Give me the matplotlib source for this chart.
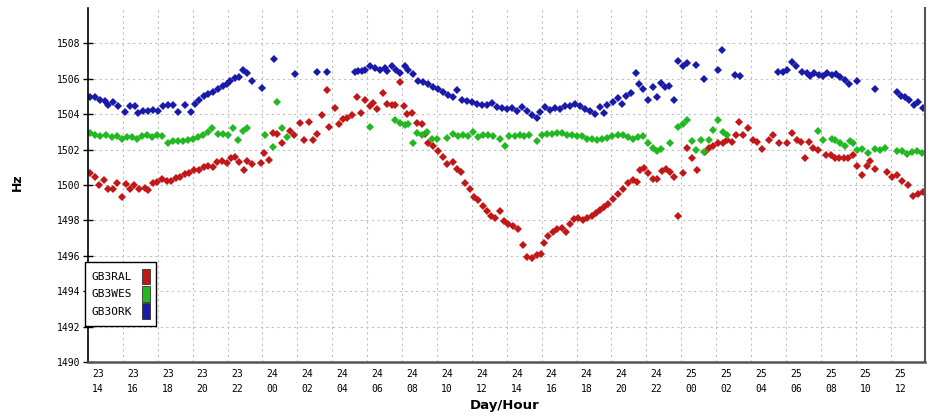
import matplotlib
matplotlib.use("Agg")
import matplotlib.pyplot as plt
from matplotlib.patches import Patch

# beacon names and colours
names = ["GB3RAL", "GB3WES", "GB3ORK"]
colors = ["#c01818", "#22b822", "#1a1aa8"]

# x axis: hours from the left edge of the plot window (23 ~13:25)
day_labels = ["23"] * 5 + ["24"] * 12 + ["25"] * 7
hour_labels = ["14", "16", "18", "20", "22",
               "00", "02", "04", "06", "08", "10", "12", "14", "16", "18", "20", "22",
               "00", "02", "04", "06", "08", "10", "12"]

# GB3RAL
ral_h = [0.11, 0.40, 0.63, 0.92, 1.15, 1.43, 1.66, 1.95, 2.18, 2.41,
         2.64, 2.92, 3.27, 3.44, 3.72, 3.95, 4.24, 4.53, 4.76, 5.04,
         5.27, 5.56, 5.79, 6.07, 6.36, 6.65, 6.88, 7.16, 7.39, 7.68,
         7.97, 8.20, 8.42, 8.65, 8.94, 9.11, 9.40, 9.91, 10.09, 10.37,
         10.60, 10.83, 11.12, 11.58, 11.81, 12.15, 12.38, 12.66, 12.89, 13.12,
         13.41, 13.70, 13.81, 14.15, 14.38, 14.61, 14.84, 15.13, 15.42, 15.64,
         15.87, 16.16, 16.33, 16.56, 16.91, 17.13, 17.42, 17.59, 17.88, 18.11,
         18.28, 18.57, 18.85, 19.14, 19.31, 19.48, 19.77, 20.06, 20.34, 20.57,
         20.92, 21.15, 21.38, 21.60, 21.89, 22.12, 22.35, 22.64, 22.87, 23.09,
         23.32, 23.61, 23.84, 24.07, 24.36, 24.64, 24.93, 25.16, 25.44, 25.73,
         25.96, 26.13, 26.36, 26.65, 26.88, 27.16, 27.39, 27.62, 27.85, 28.08,
         28.37, 28.60, 28.88, 29.11, 29.34, 29.57, 29.80, 30.09, 30.37, 30.66,
         30.95, 31.23, 31.46, 31.63, 31.86, 32.09, 32.38, 32.61, 32.89, 33.12,
         33.35, 33.58, 33.81, 34.10, 34.33, 34.61, 34.90, 35.36, 35.59, 35.82,
         36.10, 36.39, 36.62, 36.91, 37.14, 37.31, 37.54, 37.82, 38.11, 38.34,
         38.62, 39.03, 39.26, 39.60, 40.06, 40.34, 40.63, 40.86, 41.09, 41.32,
         41.55, 41.83, 42.29, 42.58, 42.81, 43.04, 43.32, 43.55, 43.84, 44.07,
         44.36, 44.64, 44.81, 45.10, 45.79, 46.07, 46.36, 46.65, 47.00, 47.28,
         47.56, 47.85]
ral_hz = [1500.65, 1500.45, 1500.0, 1500.3, 1499.75, 1499.8, 1500.1, 1499.3, 1500.05, 1499.8,
          1500.0, 1499.75, 1499.85, 1499.7, 1500.1, 1500.15, 1500.35, 1500.25, 1500.25, 1500.4,
          1500.45, 1500.6, 1500.7, 1500.85, 1500.85, 1501.0, 1501.1, 1501.0, 1501.3, 1501.35,
          1501.25, 1501.55, 1501.6, 1501.3, 1500.85, 1501.35, 1501.2, 1501.25, 1501.8, 1501.4,
          1502.95, 1502.9, 1502.35, 1503.05, 1502.85, 1503.5, 1502.55, 1503.55, 1502.55, 1502.9,
          1503.95, 1505.35, 1503.25, 1504.35, 1503.45, 1503.75, 1503.8, 1503.95, 1504.95, 1504.05,
          1504.8, 1504.45, 1504.65, 1504.3, 1505.2, 1504.6, 1504.5, 1504.5, 1505.8, 1504.45,
          1504.0, 1504.05, 1503.5, 1503.45, 1502.9, 1502.35, 1502.2, 1501.9, 1501.6, 1501.2,
          1501.3, 1500.9, 1500.75, 1500.1, 1499.75, 1499.3, 1499.15, 1498.8, 1498.55, 1498.25,
          1498.15, 1498.55, 1497.95, 1497.8, 1497.7, 1497.5, 1496.6, 1495.95, 1495.85, 1496.05,
          1496.1, 1496.7, 1497.1, 1497.35, 1497.5, 1497.55, 1497.35, 1497.8, 1498.1, 1498.15,
          1498.05, 1498.15, 1498.25, 1498.4, 1498.6, 1498.75, 1498.9, 1499.2, 1499.5, 1499.8,
          1500.1, 1500.3, 1500.15, 1500.85, 1500.95, 1500.65, 1500.35, 1500.35, 1500.8, 1500.9,
          1500.75, 1500.45, 1498.25, 1500.65, 1502.1, 1501.55, 1500.85, 1501.85, 1502.1, 1502.2,
          1502.35, 1502.35, 1502.55, 1502.45, 1502.8, 1503.55, 1502.85, 1503.2, 1502.55, 1502.45,
          1502.05, 1502.55, 1502.85, 1502.4, 1502.35, 1502.95, 1502.55, 1502.45, 1501.55, 1502.45,
          1502.1, 1501.95, 1501.7, 1501.7, 1501.55, 1501.5, 1501.5, 1501.55, 1501.7, 1501.1,
          1500.55, 1501.1, 1501.35, 1500.9, 1500.75, 1500.45, 1500.55, 1500.25, 1500.0, 1499.4,
          1499.5, 1499.6]

# GB3WES
wes_h = [0.11, 0.40, 0.69, 1.03, 1.38, 1.66, 1.95, 2.24, 2.52, 2.81,
         3.09, 3.38, 3.67, 3.95, 4.24, 4.58, 4.87, 5.16, 5.44, 5.73,
         6.02, 6.30, 6.59, 6.88, 7.11, 7.45, 7.74, 8.02, 8.31, 8.60,
         8.88, 9.11, 10.14, 10.60, 10.83, 11.12, 11.40, 16.16, 17.59, 17.88,
         18.17, 18.34, 18.62, 18.85, 19.14, 19.43, 19.71, 20.00, 20.57, 20.92,
         21.20, 21.49, 21.78, 22.06, 22.35, 22.64, 22.92, 23.21, 23.61, 23.90,
         24.13, 24.47, 24.76, 24.99, 25.27, 25.73, 26.02, 26.30, 26.59, 26.88,
         27.16, 27.45, 27.74, 28.02, 28.31, 28.60, 28.88, 29.17, 29.46, 29.74,
         30.03, 30.37, 30.66, 30.95, 31.23, 31.52, 31.81, 32.09, 32.38, 32.61,
         32.84, 33.35, 33.81, 34.10, 34.33, 34.61, 34.84, 35.13, 35.30, 35.59,
         35.82, 36.10, 36.39, 36.62, 41.83, 42.12, 42.64, 42.81, 43.09, 43.38,
         43.67, 43.84, 44.07, 44.36, 44.70, 45.10, 45.39, 45.67, 46.36, 46.65,
         46.94, 47.22, 47.51, 47.79]
wes_hz = [1502.95, 1502.85, 1502.75, 1502.8, 1502.7, 1502.75, 1502.6, 1502.7, 1502.7, 1502.6,
          1502.75, 1502.8, 1502.7, 1502.85, 1502.75, 1502.35, 1502.5, 1502.5, 1502.5, 1502.55,
          1502.6, 1502.7, 1502.85, 1503.0, 1503.2, 1502.9, 1502.9, 1502.8, 1503.2, 1502.55,
          1503.05, 1503.2, 1502.8, 1502.15, 1504.7, 1503.2, 1502.7, 1503.3, 1503.7, 1503.5,
          1503.4, 1503.45, 1502.4, 1502.95, 1502.8, 1503.0, 1502.6, 1502.6, 1502.65, 1502.9,
          1502.75, 1502.8, 1502.75, 1503.0, 1502.7, 1502.85, 1502.8, 1502.75, 1502.6, 1502.2,
          1502.75, 1502.75, 1502.85, 1502.75, 1502.85, 1502.5, 1502.85, 1502.9, 1502.9, 1502.95,
          1502.95, 1502.85, 1502.8, 1502.75, 1502.75, 1502.6, 1502.6, 1502.55, 1502.6, 1502.65,
          1502.75, 1502.85, 1502.8, 1502.7, 1502.6, 1502.7, 1502.75, 1502.35, 1502.1, 1501.9,
          1502.05, 1502.35, 1503.3, 1503.45, 1503.7, 1502.5, 1502.0, 1502.55, 1501.85, 1502.55,
          1503.1, 1503.65, 1503.0, 1502.85, 1503.05, 1502.55, 1502.6, 1502.55, 1502.35, 1502.2,
          1502.5, 1502.4, 1502.0, 1502.05, 1501.8, 1502.05, 1502.0, 1502.1, 1501.9, 1501.9,
          1501.75, 1501.85, 1501.9, 1501.8]

# GB3ORK
ork_h = [0.11, 0.40, 0.69, 0.97, 1.15, 1.43, 1.72, 2.12, 2.41, 2.69,
         2.87, 3.15, 3.44, 3.72, 4.01, 4.30, 4.58, 4.87, 5.16, 5.56,
         5.90, 6.13, 6.36, 6.65, 6.88, 7.16, 7.45, 7.74, 7.97, 8.14,
         8.42, 8.65, 8.88, 9.11, 9.40, 9.97, 10.66, 11.86, 13.12, 13.70,
         15.30, 15.47, 15.70, 15.87, 16.16, 16.45, 16.73, 17.02, 17.13, 17.42,
         17.65, 17.88, 18.17, 18.34, 18.62, 18.91, 19.20, 19.48, 19.77, 20.06,
         20.34, 20.63, 20.92, 21.15, 21.43, 21.72, 22.01, 22.29, 22.58, 22.87,
         23.15, 23.44, 23.72, 24.01, 24.30, 24.58, 24.87, 25.16, 25.44, 25.73,
         25.90, 26.19, 26.48, 26.76, 27.05, 27.34, 27.62, 27.91, 28.19, 28.48,
         28.77, 29.05, 29.34, 29.57, 29.74, 30.09, 30.37, 30.60, 30.83, 31.12,
         31.40, 31.58, 31.81, 32.09, 32.38, 32.61, 32.84, 33.07, 33.30, 33.58,
         33.81, 34.10, 34.33, 34.84, 35.30, 36.10, 36.33, 37.08, 37.36, 39.54,
         39.83, 40.06, 40.34, 40.57, 40.92, 41.20, 41.38, 41.60, 41.89, 42.12,
         42.35, 42.64, 42.87, 43.09, 43.38, 43.61, 44.07, 45.10, 46.36, 46.59,
         46.82, 47.05, 47.34, 47.56, 47.85]
ork_hz = [1505.0, 1505.0, 1504.8, 1504.75, 1504.5, 1504.7, 1504.45, 1504.1, 1504.45, 1504.45,
          1504.05, 1504.2, 1504.2, 1504.25, 1504.2, 1504.45, 1504.5, 1504.5, 1504.1, 1504.5,
          1504.1, 1504.6, 1504.8, 1505.05, 1505.15, 1505.25, 1505.4, 1505.6, 1505.7, 1505.9,
          1506.05, 1506.1, 1506.5, 1506.35, 1505.9, 1505.5, 1507.1, 1506.25, 1506.4, 1506.4,
          1506.4, 1506.45, 1506.45, 1506.5, 1506.7, 1506.6, 1506.5, 1506.6, 1506.45, 1506.75,
          1506.5, 1506.3, 1506.7, 1506.5, 1506.25, 1505.9, 1505.8, 1505.7, 1505.55, 1505.4,
          1505.25, 1505.1, 1504.95, 1505.35, 1504.8, 1504.75, 1504.7, 1504.6, 1504.5, 1504.5,
          1504.65, 1504.4, 1504.35, 1504.3, 1504.35, 1504.2, 1504.4, 1504.2, 1503.95, 1503.8,
          1504.1, 1504.4, 1504.25, 1504.35, 1504.3, 1504.45, 1504.45, 1504.55, 1504.45, 1504.3,
          1504.2, 1504.0, 1504.4, 1504.05, 1504.5, 1504.7, 1504.9, 1504.6, 1505.05, 1505.2,
          1506.3, 1505.7, 1505.4, 1504.8, 1505.55, 1504.95, 1505.75, 1505.55, 1505.6, 1504.8,
          1507.0, 1506.75, 1506.9, 1506.8, 1506.0, 1506.5, 1507.65, 1506.2, 1506.15, 1506.4,
          1506.4, 1506.5, 1506.95, 1506.75, 1506.4, 1506.3, 1506.15, 1506.35, 1506.2, 1506.15,
          1506.3, 1506.2, 1506.25, 1506.1, 1505.95, 1505.7, 1505.9, 1505.45, 1505.25, 1505.05,
          1504.95, 1504.8, 1504.5, 1504.7, 1504.35]

plt.rcParams['font.family'] = ['DejaVu Sans Mono', 'DejaVu Sans']

fig = plt.figure(figsize=(9.3, 4.17), dpi=100)
ax = fig.add_axes([88 / 930, 1 - 362 / 417, 837 / 930, 354 / 417])

series = [(ral_h, ral_hz), (wes_h, wes_hz), (ork_h, ork_hz)]
for (h, hz), c, n in zip(series, colors, names):
    ax.plot(h, hz, ls='none', marker='D', ms=3.7, mew=0, color=c, label=n)

ax.set_xlim(0, 47.97)
ax.set_ylim(1490, 1510)

# y ticks
ax.set_yticks(range(1490, 1510, 2))
ax.tick_params(axis='y', direction='inout', length=7, width=1, labelsize=7, pad=2)

# x labels sit a bit right of the day/hour grid lines
ax.set_xticks([0.57 + 2 * i for i in range(len(hour_labels))])
ax.set_xticklabels([d + "\n" + h for d, h in zip(day_labels, hour_labels)])
ax.set_xticks(range(2, 47, 2), minor=True)
ax.tick_params(axis='x', which='both', length=0, labelsize=7, pad=5)
for lab in ax.get_xticklabels():
    lab.set_linespacing(1.6)

# dashed grid
ax.grid(which='minor', axis='x', ls=(0, (2, 3)), color='#c0c0c0', lw=0.8)
ax.grid(which='major', axis='y', ls=(0, (2, 3)), color='#c0c0c0', lw=0.8)
ax.xaxis.grid(False, which='major')
ax.set_axisbelow(True)

ax.spines['top'].set_visible(False)
ax.spines['left'].set_color('black')
ax.spines['left'].set_linewidth(1.2)
ax.spines['bottom'].set_color('#555555')
ax.spines['bottom'].set_linewidth(1.8)
ax.spines['right'].set_color('#555555')
ax.spines['right'].set_linewidth(1.5)

# legend: name left, colour block right
handles = [Patch(facecolor=c, edgecolor='#333333', lw=0.6) for c in colors]
leg = ax.legend(handles, names, loc='upper left', bbox_to_anchor=(-0.004, 0.2825),
                markerfirst=False, fancybox=False, framealpha=1, edgecolor='black',
                prop={'family': 'DejaVu Sans Mono', 'size': 8},
                handlelength=0.7, handleheight=1.8, handletextpad=0.9,
                labelspacing=0.15, borderpad=0.6, borderaxespad=0)
leg.get_frame().set_linewidth(1.0)

fig.text(17 / 930, 1 - 182 / 417, 'Hz', rotation=90, ha='center', va='center',
         family='DejaVu Sans', weight='bold', size=9)
fig.text(505 / 930, 1 - 405 / 417, 'Day/Hour', ha='center', va='center',
         family='DejaVu Sans', weight='bold', size=9.5)

fig.savefig('out.png', dpi=100)
